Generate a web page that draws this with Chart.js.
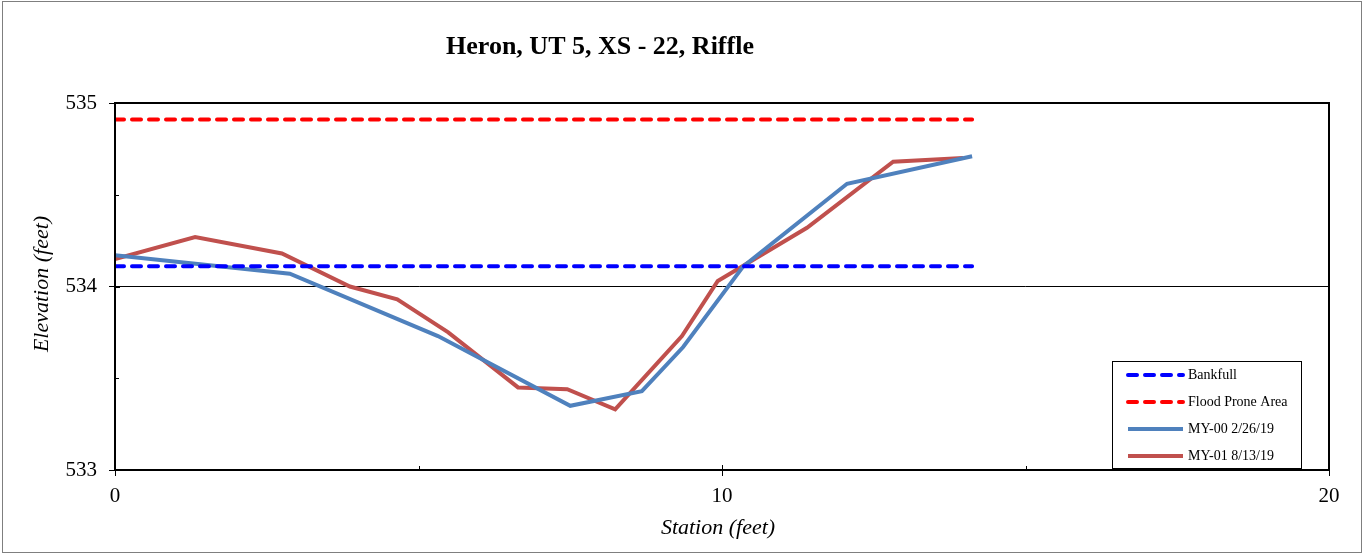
<!DOCTYPE html>
<html>
<head>
<meta charset="utf-8">
<script src="https://cdn.jsdelivr.net/npm/chart.js@4.4.1/dist/chart.umd.min.js"></script>
<style>
  html, body { margin: 0; padding: 0; background: #fff; }
  #wrap { width: 1364px; height: 555px; position: relative; }
</style>
</head>
<body>
<div id="wrap"><canvas id="xsChart"></canvas></div>
<script>
// Heron, UT 5, XS - 22, Riffle -- cross-section survey

const titleText = "Heron, UT 5, XS - 22, Riffle";
const xTicks = [0, 10, 20];
const yTicks = [533, 534, 535];

// MY-00 survey
const stationMY00 = [0, 2.88, 5.32, 7.50, 8.68, 9.36, 10.35, 12.06, 14.12];
const elevMY00 = [534.17, 534.07, 533.73, 533.35, 533.43, 533.67, 534.11, 534.56, 534.71];

// MY-01 survey
const stationMY01 = [0, 1.32, 2.75, 3.87, 4.65, 5.49, 6.64, 7.45, 8.24, 9.34, 9.93, 11.40, 12.82, 13.97];
const elevMY01 = [534.15, 534.27, 534.18, 534.00, 533.93, 533.75, 533.45, 533.44, 533.33, 533.73, 534.03, 534.32, 534.68, 534.70];

// reference elevations, drawn across the surveyed width
const refStations = [0, 14.12];
const bankfullElev = 534.11;
const floodProneElev = 534.91;

const toPoints = (xs, ys) => xs.map((x, i) => ({ x: x, y: ys[i] }));
const flat = (xs, y) => xs.map(x => ({ x: x, y: y }));

const serif = "'Liberation Serif', 'Times New Roman', serif";

// draws title, axis titles, frame, minor ticks and the boxed legend
const decorPlugin = {
    id: 'decor',
    afterDraw(chart) {
        const ctx = chart.ctx;
        const a = chart.chartArea;
        const xs = chart.scales.x;
        const ys = chart.scales.y;
        ctx.save();

        // outer frame
        ctx.strokeStyle = '#7f7f7f';
        ctx.lineWidth = 1;
        ctx.strokeRect(2.5, 1.5, 1359, 551);

        // plot frame
        ctx.strokeStyle = '#000';
        ctx.lineWidth = 2;
        ctx.strokeRect(a.left, a.top, a.right - a.left, a.bottom - a.top);

        // major ticks poke inside, minor ticks inside only
        ctx.lineWidth = 1;
        ctx.beginPath();
        yTicks.forEach(v => {
            const py = Math.round(ys.getPixelForValue(v)) + 0.5;
            ctx.moveTo(a.left, py); ctx.lineTo(a.left + 5, py);
        });
        [533.5, 534.5].forEach(v => {
            const py = Math.round(ys.getPixelForValue(v)) + 0.5;
            ctx.moveTo(a.left, py); ctx.lineTo(a.left + 4, py);
        });
        xTicks.forEach(v => {
            const px = Math.round(xs.getPixelForValue(v)) + 0.5;
            ctx.moveTo(px, a.bottom); ctx.lineTo(px, a.bottom - 5);
        });
        [5, 15].forEach(v => {
            const px = Math.round(xs.getPixelForValue(v)) + 0.5;
            ctx.moveTo(px, a.bottom); ctx.lineTo(px, a.bottom - 4);
        });
        ctx.stroke();

        // title
        ctx.fillStyle = '#000';
        ctx.font = "bold 26px " + serif;
        ctx.textAlign = 'center';
        ctx.textBaseline = 'alphabetic';
        ctx.fillText(titleText, 600, 54);

        // axis titles
        ctx.font = "italic 22px " + serif;
        ctx.fillText("Station (feet)", 718, 534);
        ctx.save();
        ctx.translate(48, 284);
        ctx.rotate(-Math.PI / 2);
        ctx.fillText("Elevation (feet)", 0, 0);
        ctx.restore();

        // legend
        const lx = 1112, ly = 361, lw = 189, lh = 107;
        ctx.fillStyle = '#fff';
        ctx.fillRect(lx, ly, lw, lh);
        ctx.strokeStyle = '#000';
        ctx.lineWidth = 1;
        ctx.strokeRect(lx + 0.5, ly + 0.5, lw, lh);
        ctx.font = "14px " + serif;
        ctx.textAlign = 'left';
        ctx.textBaseline = 'middle';
        chart.data.datasets.forEach((ds, i) => {
            const yy = ly + 14 + i * 27;
            ctx.save();
            ctx.strokeStyle = ds.borderColor;
            ctx.lineWidth = ds.borderWidth;
            ctx.lineCap = ds.borderCapStyle || 'butt';
            ctx.setLineDash(ds.borderDash || []);
            ctx.beginPath();
            ctx.moveTo(lx + 16, yy);
            ctx.lineTo(lx + 71, yy);
            ctx.stroke();
            ctx.restore();
            ctx.fillStyle = '#000';
            ctx.fillText(ds.label, lx + 76, yy);
        });
        ctx.restore();
    }
};

const chart = new Chart(document.getElementById('xsChart'), {
    type: 'line',
    data: {
        datasets: [
            { label: 'Bankfull', data: flat(refStations, bankfullElev), borderColor: '#0000ff', borderWidth: 4, borderDash: [9, 8], borderCapStyle: 'round' },
            { label: 'Flood Prone Area', data: flat(refStations, floodProneElev), borderColor: '#ff0000', borderWidth: 4, borderDash: [9, 8], borderCapStyle: 'round' },
            { label: 'MY-00 2/26/19', data: toPoints(stationMY00, elevMY00), borderColor: '#4f81bd', borderWidth: 4 },
            { label: 'MY-01 8/13/19', data: toPoints(stationMY01, elevMY01), borderColor: '#c0504d', borderWidth: 4 }
        ]
    },
    options: {
        responsive: true,
        maintainAspectRatio: false,
        animation: false,
        events: [],
        elements: { point: { radius: 0 }, line: { tension: 0 } },
        layout: { padding: { left: 0, right: 35, top: 103, bottom: 0 } },
        plugins: { legend: { display: false }, tooltip: { enabled: false } },
        scales: {
            x: {
                type: 'linear', min: 0, max: 20,
                afterBuildTicks: s => { s.ticks = xTicks.map(v => ({ value: v })); },
                afterFit: s => { s.height = 85; },
                grid: { drawOnChartArea: false, color: '#000', tickLength: 6 },
                border: { color: '#000', width: 2 },
                ticks: { color: '#000', font: { family: serif, size: 21 }, padding: 8, maxRotation: 0 }
            },
            y: {
                min: 533, max: 535,
                afterBuildTicks: s => { s.ticks = yTicks.map(v => ({ value: v })); },
                afterFit: s => { s.width = 115; },
                grid: { color: c => (c.tick && c.tick.value === 534) ? '#000' : 'rgba(0,0,0,0)', tickColor: '#000', tickLength: 6, lineWidth: 1 },
                border: { color: '#000', width: 2 },
                ticks: { color: '#000', font: { family: serif, size: 21 }, padding: 12 }
            }
        }
    },
    plugins: [decorPlugin]
});
</script>
</body>
</html>
